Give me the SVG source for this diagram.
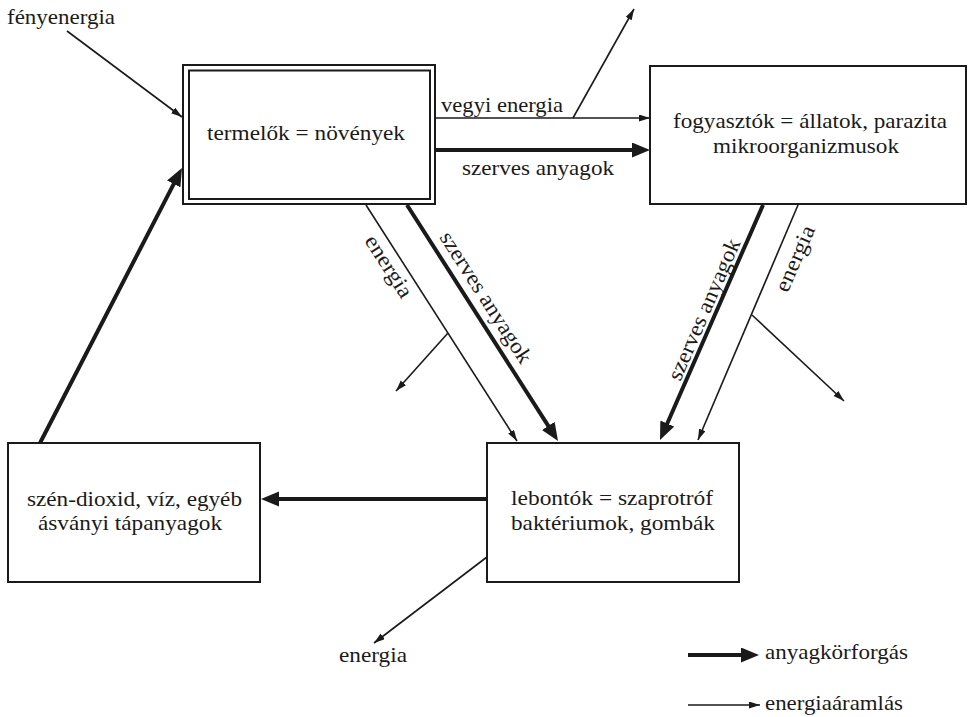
<svg xmlns="http://www.w3.org/2000/svg" width="968" height="717" viewBox="0 0 968 717">
<style>
text{fill:#1a1a1a}
.box{fill:#fff;stroke:#1a1a1a;stroke-width:2}
.thin{stroke:#1a1a1a;stroke-width:1.6;fill:none}
.thick{stroke:#1a1a1a;stroke-width:4;fill:none}
</style>
<defs>
<marker id="ah" markerUnits="userSpaceOnUse" markerWidth="12" markerHeight="8" refX="11" refY="3.5" orient="auto" viewBox="0 0 12 8">
<path d="M0,0 L11,3.5 L0,7 z" fill="#1a1a1a"/>
</marker>
<marker id="AH" markerUnits="userSpaceOnUse" markerWidth="20" markerHeight="16" refX="10" refY="7.5" orient="auto" viewBox="0 0 20 16">
<path d="M0,0 L18,7.5 L0,15 z" fill="#1a1a1a"/>
</marker>
</defs>
<rect width="968" height="717" fill="#fff"/>

<g id="termelok" font-family="Liberation Serif" font-size="22">
<rect class="box" x="183" y="65" width="252" height="139"/>
<rect class="box" x="189" y="70.5" width="241" height="128.5"/>
<text x="207" y="140" textLength="198" lengthAdjust="spacingAndGlyphs">termelők = növények</text>
</g>

<g id="fogyasztok" font-family="Liberation Serif" font-size="22">
<rect class="box" x="650" y="66" width="316" height="138"/>
<text x="673" y="128" textLength="274" lengthAdjust="spacingAndGlyphs">fogyasztók = állatok, parazita</text>
<text x="713" y="153" textLength="186" lengthAdjust="spacingAndGlyphs">mikroorganizmusok</text>
</g>

<g id="lebontok" font-family="Liberation Serif" font-size="22">
<rect class="box" x="487" y="443" width="252" height="139"/>
<text x="511" y="505" textLength="202" lengthAdjust="spacingAndGlyphs">lebontók = szaprotróf</text>
<text x="511" y="530" textLength="204" lengthAdjust="spacingAndGlyphs">baktériumok, gombák</text>
</g>

<g id="szendioxid" font-family="Liberation Serif" font-size="22">
<rect class="box" x="8" y="443" width="252" height="139"/>
<text x="27" y="506" textLength="215" lengthAdjust="spacingAndGlyphs">szén-dioxid, víz, egyéb</text>
<text x="38" y="530" textLength="184" lengthAdjust="spacingAndGlyphs">ásványi tápanyagok</text>
</g>

<g id="connectors">
<line class="thin" x1="67" y1="31" x2="182" y2="117" marker-end="url(#ah)"/>
<line class="thin" x1="435" y1="118" x2="650" y2="118" marker-end="url(#ah)"/>
<line class="thin" x1="573" y1="118" x2="634" y2="9" marker-end="url(#ah)"/>
<line class="thick" x1="435" y1="150" x2="642" y2="150" marker-end="url(#AH)"/>

<line class="thin" x1="366" y1="205" x2="517" y2="441" marker-end="url(#ah)"/>
<line class="thin" x1="448" y1="333" x2="396" y2="391" marker-end="url(#ah)"/>
<line class="thick" x1="407" y1="205" x2="553.7" y2="434.3" marker-end="url(#AH)"/>

<line class="thick" x1="763" y1="205" x2="663.2" y2="432.7" marker-end="url(#AH)"/>
<line class="thin" x1="798" y1="205" x2="698" y2="440" marker-end="url(#ah)"/>
<line class="thin" x1="752" y1="315" x2="844" y2="401" marker-end="url(#ah)"/>

<line class="thick" x1="487" y1="499" x2="269" y2="499" marker-end="url(#AH)"/>
<line class="thin" x1="487" y1="557" x2="374" y2="643" marker-end="url(#ah)"/>
<line class="thick" x1="40" y1="443" x2="178.3" y2="175.1" marker-end="url(#AH)"/>

<line class="thick" x1="688" y1="655" x2="751" y2="655" marker-end="url(#AH)"/>
<line class="thin" x1="688" y1="705" x2="760" y2="705" marker-end="url(#ah)"/>
</g>

<g id="labels" font-family="Liberation Serif" font-size="22">
<text x="7" y="24" textLength="108" lengthAdjust="spacingAndGlyphs">fényenergia</text>
<text x="441" y="112" textLength="122" lengthAdjust="spacingAndGlyphs">vegyi energia</text>
<text x="462" y="175" textLength="152" lengthAdjust="spacingAndGlyphs">szerves anyagok</text>
<text text-anchor="middle" transform="translate(388,267) rotate(57.4)" y="6" textLength="70" lengthAdjust="spacingAndGlyphs">energia</text>
<text text-anchor="middle" transform="translate(485,298) rotate(57.4)" y="6" textLength="152" lengthAdjust="spacingAndGlyphs">szerves anyagok</text>
<text text-anchor="middle" transform="translate(705,310) rotate(-66.5)" y="6" textLength="152" lengthAdjust="spacingAndGlyphs">szerves anyagok</text>
<text text-anchor="middle" transform="translate(796,259) rotate(-66.5)" y="6" textLength="70" lengthAdjust="spacingAndGlyphs">energia</text>
<text x="339" y="662" textLength="68" lengthAdjust="spacingAndGlyphs">energia</text>
<text x="765" y="659" textLength="143" lengthAdjust="spacingAndGlyphs">anyagkörforgás</text>
<text x="765" y="710" textLength="138" lengthAdjust="spacingAndGlyphs">energiaáramlás</text>
</g>
</svg>
